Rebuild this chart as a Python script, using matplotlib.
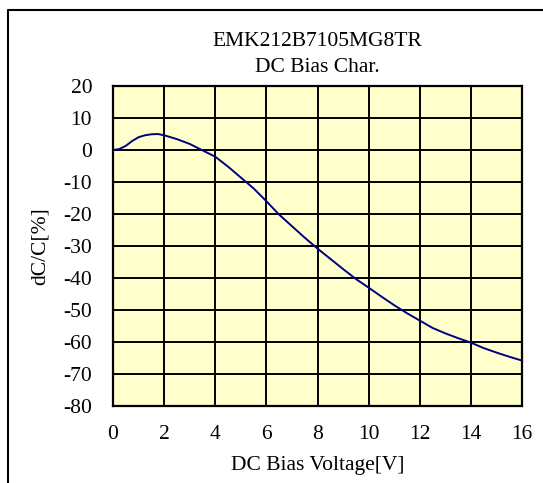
import matplotlib
matplotlib.use("Agg")
import matplotlib.pyplot as plt
from matplotlib.lines import Line2D

# data
voltage = [0, 0.25, 0.5, 0.75, 1.0, 1.25, 1.5, 1.75, 2.0, 2.5, 3.0, 3.5, 4.0,
           4.5, 5.0, 5.5, 6.0, 6.5, 7.0, 7.5, 8.0, 8.5, 9.0, 9.5, 10.0, 10.5,
           11.0, 11.5, 12.0, 12.5, 13.0, 13.5, 14.0, 14.5, 15.0, 15.5, 16.0]
dcc = [0, 0.3, 1.3, 2.8, 4.0, 4.6, 4.9, 5.0, 4.6, 3.4, 1.9, -0.1, -2.1,
       -5.2, -8.6, -12.0, -16.0, -20.2, -23.8, -27.4, -30.8, -34.0, -37.2, -40.3, -43.0, -45.8,
       -48.5, -51.0, -53.3, -55.6, -57.3, -58.8, -60.2, -61.9, -63.3, -64.6, -65.8]

xticks = list(range(0, 17, 2))
yticks = list(range(-80, 21, 10))

plt.rcParams['font.family'] = ['Liberation Serif', 'DejaVu Serif']
plt.rcParams['axes.unicode_minus'] = False

W, H = 543, 483
fig = plt.figure(figsize=(W / 100, H / 100), dpi=100)
ax = fig.add_axes([113 / W, 1 - 406 / H, (522 - 113) / W, (406 - 86) / H])

ax.set_facecolor('#FFFFCC')
ax.plot(voltage, dcc, color='#000080', linewidth=1.4)

ax.set_xlim(0, 16)
ax.set_ylim(-80, 20)
ax.set_xticks(xticks)
ax.set_yticks(yticks)
ax.grid(True, color='black', linewidth=1.4)
ax.set_axisbelow(True)
for s in ax.spines.values():
    s.set_linewidth(1.6)
ax.tick_params(length=0, labelsize=15.5, pad=14)
ax.tick_params(axis='y', pad=15)

ax.set_xlabel('DC Bias Voltage[V]', fontsize=15.5, labelpad=8)
ax.set_ylabel('dC/C[%]', fontsize=15.5, labelpad=10)

fig.text(317.5 / W, 1 - 41 / H, 'EMK212B7105MG8TR', ha='center', va='center', fontsize=15.5)
fig.text(317.5 / W, 1 - 67 / H, 'DC Bias Char.', ha='center', va='center', fontsize=15.5)

# outer frame (left and top edges visible)
fig.add_artist(Line2D([8 / W, 8 / W, 1.0], [0.0, 1 - 10 / H, 1 - 10 / H],
                      transform=fig.transFigure, color='black', linewidth=1.5))

fig.savefig('out.png', dpi=100)
